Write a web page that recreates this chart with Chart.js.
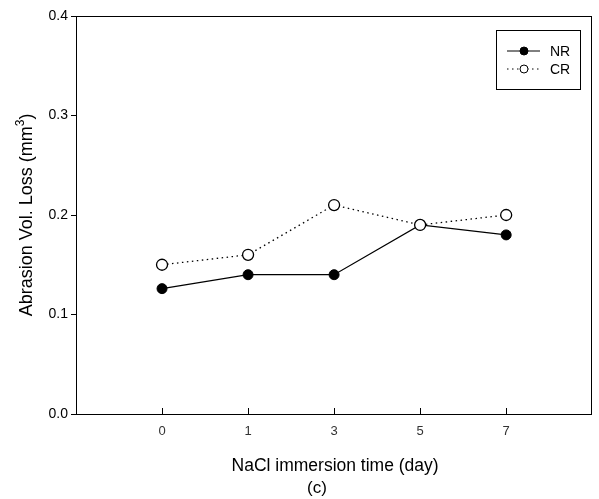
<!DOCTYPE html>
<html>
<head>
<meta charset="utf-8">
<script src="https://cdn.jsdelivr.net/npm/chart.js@4.4.1/dist/chart.umd.min.js"></script>
<style>
  html, body { margin: 0; padding: 0; background: #fff; }
  #wrap { width: 599px; height: 499px; position: relative; }
</style>
</head>
<body>
<div id="wrap"><canvas id="myChart" width="599" height="499"></canvas></div>
<script>
// data
const days = ["0", "1", "3", "5", "7"];
const nrLoss = [0.126, 0.14, 0.14, 0.19, 0.18];
const crLoss = [0.15, 0.16, 0.21, 0.19, 0.20];
const yTicks = [0.0, 0.1, 0.2, 0.3, 0.4];
const seriesNames = ["NR", "CR"];

const FONT = "'Liberation Sans', Arial, sans-serif";

function toPoints(vals) {
    return vals.map((v, i) => ({ x: i, y: v }));
}

// box around the plot, inward x ticks, titles and the boxed legend
const framePlugin = {
    id: "frame",
    afterDraw(chart) {
        const ctx = chart.ctx;
        const a = chart.chartArea;
        const xs = chart.scales.x;
        ctx.save();
        ctx.strokeStyle = "#000";
        ctx.lineWidth = 1;
        ctx.strokeRect(Math.round(a.left) + 0.5, Math.round(a.top) + 0.5,
            Math.round(a.right - a.left) - 1, Math.round(a.bottom - a.top));

        // x ticks point up into the plot
        days.forEach((d, i) => {
            const px = Math.round(xs.getPixelForValue(i)) + 0.5;
            ctx.beginPath();
            ctx.moveTo(px, a.bottom);
            ctx.lineTo(px, a.bottom - 6);
            ctx.stroke();
        });

        // axis titles
        ctx.fillStyle = "#000";
        ctx.textAlign = "center";
        ctx.textBaseline = "middle";
        ctx.font = "17.5px " + FONT;
        ctx.fillText("NaCl immersion time (day)", (a.left + a.right) / 2 + 1, 466);
        ctx.font = "17px " + FONT;
        ctx.fillText("(c)", 317, 488);

        ctx.save();
        ctx.translate(27, (a.top + a.bottom) / 2);
        ctx.rotate(-Math.PI / 2);
        const main = "Abrasion Vol. Loss (mm";
        ctx.font = "18px " + FONT;
        const w1 = ctx.measureText(main).width;
        ctx.font = "12px " + FONT;
        const w2 = ctx.measureText("3").width;
        ctx.font = "18px " + FONT;
        const w3 = ctx.measureText(")").width;
        let x0 = -(w1 + w2 + w3) / 2;
        ctx.textAlign = "left";
        ctx.fillText(main, x0, 0);
        ctx.font = "12px " + FONT;
        ctx.fillText("3", x0 + w1, -6);
        ctx.font = "18px " + FONT;
        ctx.fillText(")", x0 + w1 + w2, 0);
        ctx.restore();

        // legend
        ctx.strokeRect(496.5, 30.5, 84, 59);
        const rows = [51, 69];
        chart.data.datasets.forEach((ds, k) => {
            const y = rows[k];
            ctx.beginPath();
            ctx.setLineDash(ds.borderDash || []);
            ctx.moveTo(507, y);
            ctx.lineTo(540, y);
            ctx.stroke();
            ctx.setLineDash([]);
            ctx.beginPath();
            ctx.arc(524, y, 4, 0, Math.PI * 2);
            ctx.fillStyle = ds.pointBackgroundColor;
            ctx.fill();
            ctx.stroke();
            ctx.fillStyle = "#000";
            ctx.font = "14px " + FONT;
            ctx.textAlign = "left";
            ctx.fillText(ds.label, 550, y + 1);
        });
        ctx.restore();
    }
};

new Chart("myChart", {
    type: "line",
    data: {
        datasets: [{
            label: seriesNames[0],
            data: toPoints(nrLoss),
            order: 2, // drawn under CR
            borderColor: "#000",
            borderWidth: 1.2,
            pointRadius: 5,
            pointBackgroundColor: "#000",
            pointBorderColor: "#000",
            pointBorderWidth: 1
        }, {
            label: seriesNames[1],
            data: toPoints(crLoss),
            order: 1,
            borderColor: "#000",
            borderWidth: 1.3,
            borderDash: [1.5, 3.5],
            pointRadius: 5.5,
            pointBackgroundColor: "#fff",
            pointBorderColor: "#000",
            pointBorderWidth: 1.3
        }]
    },
    options: {
        responsive: false,
        animation: false,
        layout: { padding: { top: 16, right: 3, left: 0, bottom: 0 } },
        plugins: {
            legend: { display: false },
            tooltip: { enabled: false }
        },
        scales: {
            x: {
                type: "linear",
                min: -1,
                max: 5,
                afterBuildTicks(scale) {
                    scale.ticks = days.map((d, i) => ({ value: i }));
                },
                afterFit(scale) { scale.height = 85; },
                grid: { display: false, drawTicks: false },
                border: { display: false },
                ticks: {
                    padding: 10,
                    color: "#333",
                    font: { family: FONT, size: 13 },
                    callback: (v) => days[v] !== undefined ? days[v] : ""
                }
            },
            y: {
                min: 0,
                max: 0.4,
                afterBuildTicks(scale) {
                    scale.ticks = yTicks.map(v => ({ value: v }));
                },
                afterFit(scale) { scale.width = 76; },
                grid: { drawOnChartArea: false, tickLength: 5, color: "#000" },
                border: { display: false },
                ticks: {
                    padding: 3,
                    color: "#000",
                    font: { family: FONT, size: 14 },
                    callback: (v) => v.toFixed(1)
                }
            }
        }
    },
    plugins: [framePlugin]
});
</script>
</body>
</html>
